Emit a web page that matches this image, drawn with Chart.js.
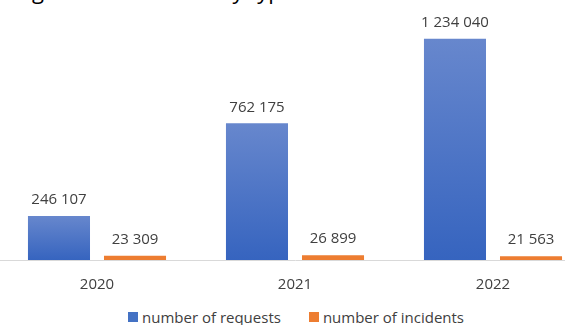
<!DOCTYPE html>
<html>
<head>
<meta charset="utf-8">
<script src="https://cdn.jsdelivr.net/npm/chart.js@4.4.1/dist/chart.umd.min.js"></script>
<style>
  html, body { margin: 0; padding: 0; background: #fff; }
  #wrap { position: relative; width: 565px; height: 325px; overflow: hidden; }
  #title {
    position: absolute; left: 6px; top: -25px;
    font: 22px "Open Sans", sans-serif; color: #000; white-space: nowrap;
  }
  #box { position: absolute; left: -2px; top: 0; width: 594px; height: 302px; }
  #legend {
    position: absolute; left: 128px; top: 306px; height: 22px;
    display: flex; align-items: center;
    font: 15px "Open Sans", sans-serif; color: #404040; white-space: nowrap;
  }
  #legend .item { display: flex; align-items: center; }
  #legend .item + .item { margin-left: 28px; }
  #legend .sw { width: 10px; height: 10px; margin-right: 4px; }
</style>
</head>
<body>
<div id="wrap">
  <div id="title">Registered incidents by type</div>
  <div id="box"><canvas id="chart"></canvas></div>
  <div id="legend"></div>
</div>
<script>
const years = ["2020", "2021", "2022"];
const requests = [246107, 762175, 1234040];
const incidents = [23309, 26899, 21563];
const seriesNames = ["number of requests", "number of incidents"];
const seriesColors = ["#4472c4", "#ed7d31"];

const TEXT = "#404040";
const FONT = "'Open Sans', sans-serif";

function spaced(n) {
  return String(n).replace(/\B(?=(\d{3})+(?!\d))/g, " ");
}

// per-bar vertical gradient, lighter at the top like the Office fill
function blueFill(ctx) {
  const chart = ctx.chart;
  const yScale = chart.scales.y;
  if (!chart.chartArea || !yScale || ctx.raw == null) return seriesColors[0];
  const top = yScale.getPixelForValue(ctx.raw);
  const bottom = yScale.getPixelForValue(0);
  if (bottom - top < 1) return seriesColors[0];
  const g = chart.ctx.createLinearGradient(0, top, 0, bottom);
  g.addColorStop(0, "#6787cd");
  g.addColorStop(1, "#3664bf");
  return g;
}

const valueLabels = {
  id: "valueLabels",
  afterDatasetsDraw(chart) {
    const c = chart.ctx;
    c.save();
    c.font = "15px " + FONT;
    c.fillStyle = TEXT;
    c.textAlign = "center";
    c.textBaseline = "middle";
    chart.data.datasets.forEach((ds, i) => {
      chart.getDatasetMeta(i).data.forEach((bar, j) => {
        c.fillText(spaced(ds.data[j]), bar.x, bar.y - 16);
      });
    });
    c.restore();
  },
};

new Chart(document.getElementById("chart"), {
  type: "bar",
  data: {
    labels: years,
    datasets: [
      {
        label: seriesNames[0],
        data: requests,
        backgroundColor: blueFill,
        categoryPercentage: 0.768,
        barPercentage: 0.816,
      },
      {
        label: seriesNames[1],
        data: incidents,
        backgroundColor: seriesColors[1],
        categoryPercentage: 0.768,
        barPercentage: 0.816,
      },
    ],
  },
  options: {
    responsive: true,
    maintainAspectRatio: false,
    animation: false,
    layout: { padding: { top: 9, left: 0, right: 0, bottom: 0 } },
    plugins: {
      tooltip: { enabled: false },
      legend: { display: false },
    },
    scales: {
      x: {
        grid: { display: false },
        border: { color: "#d9d9d9", width: 1 },
        ticks: { color: TEXT, font: { family: FONT, size: 15 }, padding: 8 },
      },
      y: {
        display: false,
        min: 0,
        max: 1400000,
      },
    },
  },
  plugins: [valueLabels],
});

const legend = document.getElementById("legend");
seriesNames.forEach((name, i) => {
  const item = document.createElement("div");
  item.className = "item";
  const sw = document.createElement("span");
  sw.className = "sw";
  sw.style.background = seriesColors[i];
  const label = document.createElement("span");
  label.textContent = name;
  item.append(sw, label);
  legend.append(item);
});
</script>
</body>
</html>
